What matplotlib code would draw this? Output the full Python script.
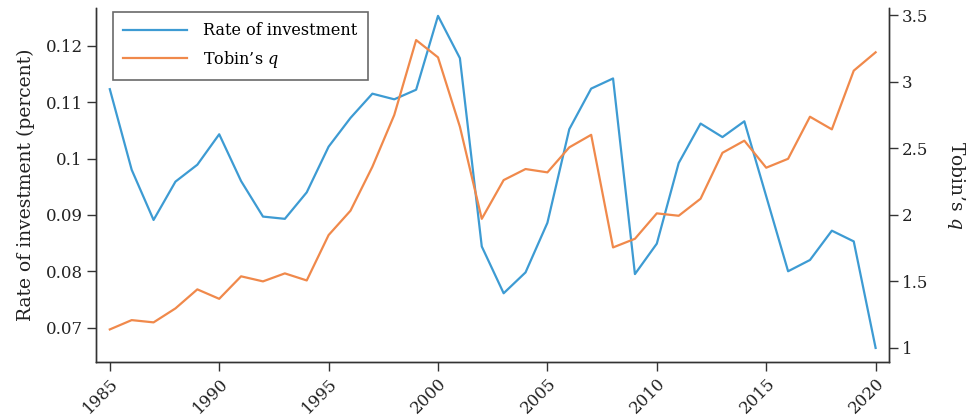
import matplotlib
matplotlib.use('Agg')
import matplotlib.pyplot as plt

plt.rcParams['font.family'] = ['DejaVu Serif']
plt.rcParams['mathtext.fontset'] = 'dejavuserif'

# Datos
years = list(range(1985, 2021))
investment = [0.1123, 0.0980, 0.0891, 0.0959, 0.0989, 0.1043, 0.0960, 0.0897, 0.0893, 0.0940,
              0.1021, 0.1072, 0.1115, 0.1105, 0.1122, 0.1253, 0.1178, 0.0844, 0.0761, 0.0798,
              0.0886, 0.1052, 0.1124, 0.1142, 0.0795, 0.0849, 0.0992, 0.1062, 0.1038, 0.1066,
              0.0933, 0.0800, 0.0820, 0.0872, 0.0853, 0.0664]
tobin_q = [1.138, 1.208, 1.191, 1.296, 1.439, 1.368, 1.537, 1.499, 1.559, 1.506,
           1.847, 2.030, 2.360, 2.749, 3.312, 3.182, 2.661, 1.969, 2.260, 2.343,
           2.318, 2.506, 2.600, 1.754, 1.819, 2.010, 1.992, 2.120, 2.465, 2.556,
           2.353, 2.420, 2.736, 2.641, 3.082, 3.220]

left_ticks = [0.07, 0.08, 0.09, 0.1, 0.11, 0.12]
left_labels = ['0.07', '0.08', '0.09', '0.1', '0.11', '0.12']
right_ticks = [1, 1.5, 2, 2.5, 3, 3.5]
right_labels = ['1', '1.5', '2', '2.5', '3', '3.5']
x_ticks = [1985, 1990, 1995, 2000, 2005, 2010, 2015, 2020]

blue = '#3d9bd3'
orange = '#f0894b'
spine_col = '#333333'
txt_col = '#222222'

fig = plt.figure(figsize=(9.67, 4.2), dpi=100)
ax1 = fig.add_axes([0.0993, 0.138, 0.82, 0.843])
ax2 = ax1.twinx()

l1, = ax1.plot(years, investment, color=blue, lw=1.6, label='Rate of investment')
l2, = ax2.plot(years, tobin_q, color=orange, lw=1.6, label='Tobin\u2019s $q$')

ax1.set_xlim(1984.37, 2020.61)
ax1.set_ylim(0.0639, 0.1267)
ax2.set_ylim(0.893, 3.553)

ax1.set_xticks(x_ticks)
ax1.set_xticklabels([str(x) for x in x_ticks], rotation=45, ha='right', va='top',
                    rotation_mode='anchor')
ax1.set_yticks(left_ticks)
ax1.set_yticklabels(left_labels)
ax2.set_yticks(right_ticks)
ax2.set_yticklabels(right_labels)

for ax in (ax1, ax2):
    ax.spines['top'].set_visible(False)
    for s in ('left', 'right', 'bottom'):
        ax.spines[s].set_color(spine_col)
        ax.spines[s].set_linewidth(1.0)
    ax.tick_params(direction='out', length=6.5, width=1.0, color=spine_col,
                   labelsize=12, labelcolor=txt_col, pad=3)

ax1.set_ylabel('Rate of investment (percent)', fontsize=13.5, color=txt_col, labelpad=8)
ax2.set_ylabel('Tobin\u2019s $q$', fontsize=13.5, color=txt_col, rotation=270,
               va='bottom', labelpad=12)

leg = ax1.legend(handles=[l1, l2], loc='upper left',
                 bbox_to_anchor=(113 / 967, 1 - 12 / 420), bbox_transform=fig.transFigure,
                 fontsize=11.5, frameon=True, fancybox=False, handlelength=4.0,
                 borderpad=0.65, labelspacing=0.6, handletextpad=1.0, borderaxespad=0)
leg.get_frame().set_edgecolor('#444444')
leg.get_frame().set_linewidth(1.2)

fig.savefig('out.png', dpi=100)
